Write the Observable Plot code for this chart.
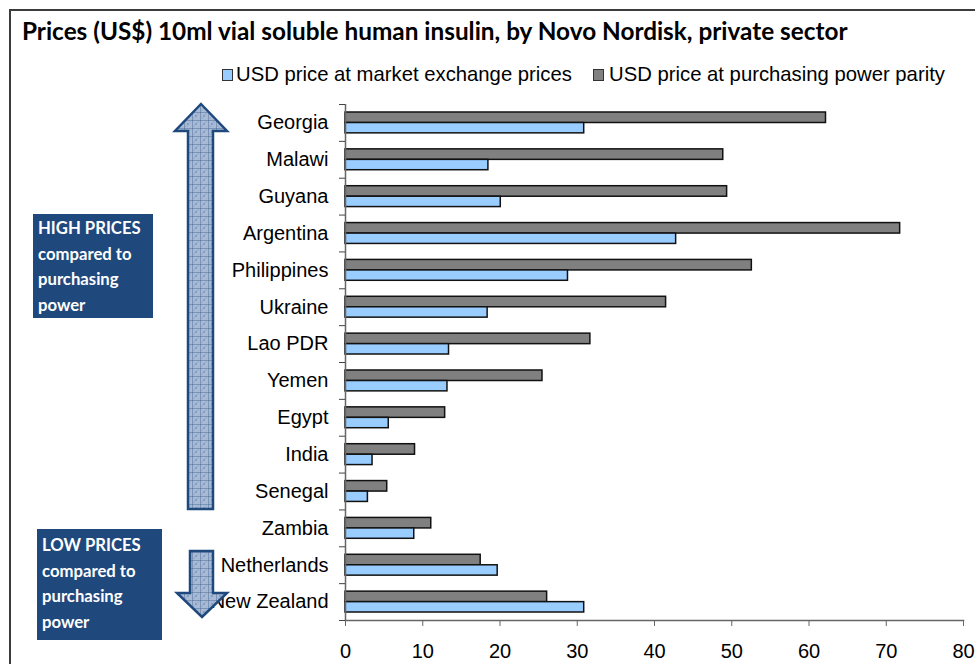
<!DOCTYPE html>
<html>
<head>
<meta charset="utf-8">
<script src="https://cdn.jsdelivr.net/npm/d3@7"></script>
<script src="https://cdn.jsdelivr.net/npm/@observablehq/plot@0.6"></script>
<style>
html,body{margin:0;padding:0;background:#fff;}
#wrap{position:relative;width:975px;height:664px;overflow:hidden;font-family:"Liberation Sans",Arial,sans-serif;color:#000;}
#border{position:absolute;left:9px;top:9px;width:1100px;height:1100px;border-left:2px solid #3c3c3c;border-top:2px solid #3c3c3c;}
#title{position:absolute;left:22px;top:16px;font-family:Lato,"Open Sans",sans-serif;font-weight:bold;font-size:21px;line-height:1.2;white-space:nowrap;}
.lgsw{position:absolute;width:9px;height:10px;border:1px solid #333;}
.lgtx{position:absolute;font-size:20.3px;line-height:23px;white-space:nowrap;}
.box{position:absolute;background:#1f497d;color:#fff;font-family:Lato,"Open Sans",sans-serif;font-weight:bold;font-size:16.7px;line-height:25.7px;box-sizing:border-box;padding-left:5px;white-space:nowrap;}
#chart{position:absolute;left:0;top:0;}
#overlay{position:absolute;left:0;top:0;pointer-events:none;}
</style>
</head>
<body>
<div id="wrap">
  <div id="border"></div>
  <div id="title"></div>
  <div id="legend"></div>
  <div class="box" id="high" style="left:33px;top:214px;width:120px;height:104px;padding-top:2px;"></div>
  <div class="box" id="low" style="left:37px;top:529px;width:125px;height:111px;padding-top:4px;"></div>
  <div id="chart"></div>
  <svg id="overlay" width="975" height="664">
    <defs>
      <pattern id="grid" width="8" height="8" patternUnits="userSpaceOnUse">
        <rect width="8" height="8" fill="#a8bbd6"/>
        <path d="M0 0H8M0 0V8" stroke="#34578a" stroke-width="0.8"/>
        <circle cx="4" cy="4" r="0.8" fill="#5a77a3"/>
        <circle cx="2" cy="6" r="0.5" fill="#6f89b0"/>
        <circle cx="6" cy="2" r="0.5" fill="#6f89b0"/>
      </pattern>
    </defs>
    <polygon points="201,104 227,131 213,131 213,509 188,509 188,131 175,131" fill="url(#grid)" stroke="#1f497d" stroke-width="2.5" stroke-linejoin="miter"/>
    <polygon points="190,551 213,551 213,593 227,593 202,617 177,593 190,593" fill="url(#grid)" stroke="#1f497d" stroke-width="2.5" stroke-linejoin="miter"/>
  </svg>
</div>
<script>
// ---- data ----
const titleText = "Prices (US$) 10ml vial soluble human insulin, by Novo Nordisk, private sector";
const countries = ["Georgia","Malawi","Guyana","Argentina","Philippines","Ukraine","Lao PDR","Yemen","Egypt","India","Senegal","Zambia","Netherlands","New Zealand"];
const marketPrices = [30.9,18.5,20.1,42.8,28.8,18.4,13.4,13.2,5.6,3.5,2.9,8.9,19.7,30.9];
const pppPrices = [62.2,48.9,49.4,71.8,52.6,41.5,31.7,25.5,12.9,9.0,5.4,11.1,17.5,26.1];
const seriesNames = ["USD price at market exchange prices","USD price at purchasing power parity"];
const seriesColors = ["#99ccff","#808080"];
const xTicks = [0,10,20,30,40,50,60,70,80];
const highLines = ["HIGH PRICES","compared to","purchasing","power"];
const lowLines = ["LOW PRICES","compared to","purchasing","power"];

// ---- text ----
const title = document.getElementById("title");
title.textContent = titleText;
const targetW = 826;
const w0 = title.getBoundingClientRect().width;
title.style.fontSize = (21 * targetW / w0).toFixed(2) + "px";

document.getElementById("high").innerHTML = highLines.join("<br>");
document.getElementById("low").innerHTML = lowLines.join("<br>");

const legend = document.getElementById("legend");
const lgPos = [[222,236],[593,609]];
seriesNames.forEach((name, i) => {
  const sw = document.createElement("div");
  sw.className = "lgsw";
  sw.style.left = lgPos[i][0] + "px";
  sw.style.top = "69px";
  sw.style.background = seriesColors[i];
  legend.appendChild(sw);
  const tx = document.createElement("div");
  tx.className = "lgtx";
  tx.style.left = lgPos[i][1] + "px";
  tx.style.top = "63px";
  tx.textContent = name;
  legend.appendChild(tx);
});

// ---- chart ----
const rows = countries.map((c, i) => ({country: c, market: marketPrices[i], ppp: pppPrices[i]}));
const W = 975, H = 664, mL = 345, mR = 12, mT = 104, mB = 44;
const bw = (H - mT - mB) / countries.length;

const chart = Plot.plot({
  width: W, height: H,
  marginLeft: mL, marginRight: mR, marginTop: mT, marginBottom: mB,
  style: {fontFamily: '"Liberation Sans", Arial, sans-serif', fontSize: "20px", color: "#000", background: "transparent", overflow: "visible"},
  x: {domain: [0, 80]},
  y: {domain: countries, padding: 0, round: false},
  marks: [
    Plot.barX(rows, {x: "ppp", y: "country", fill: seriesColors[1], stroke: "#111", strokeWidth: 1.5, insetTop: 8, insetBottom: bw - 18.5}),
    Plot.barX(rows, {x: "market", y: "country", fill: seriesColors[0], stroke: "#111", strokeWidth: 1.5, insetTop: 18.5, insetBottom: 8}),
    Plot.ruleX([0], {stroke: "#666", strokeWidth: 1.5}),
    Plot.frame({anchor: "bottom", stroke: "#666", strokeWidth: 1.5}),
    Plot.axisX({ticks: xTicks, tickSize: 6, tickPadding: 17, label: null, stroke: "#666", fill: "#000", fontSize: 20}),
    Plot.axisY({tickSize: 0, tickPadding: 17, label: null, fill: "#000", fontSize: 20}),
    Plot.axisY({tickSize: 6, tickFormat: () => "", label: null, stroke: "#444", dy: -bw / 2}),
    Plot.axisY([countries[countries.length - 1]], {tickSize: 6, tickFormat: () => "", label: null, stroke: "#444", dy: bw / 2})
  ]
});
document.getElementById("chart").appendChild(chart);
</script>
</body>
</html>
